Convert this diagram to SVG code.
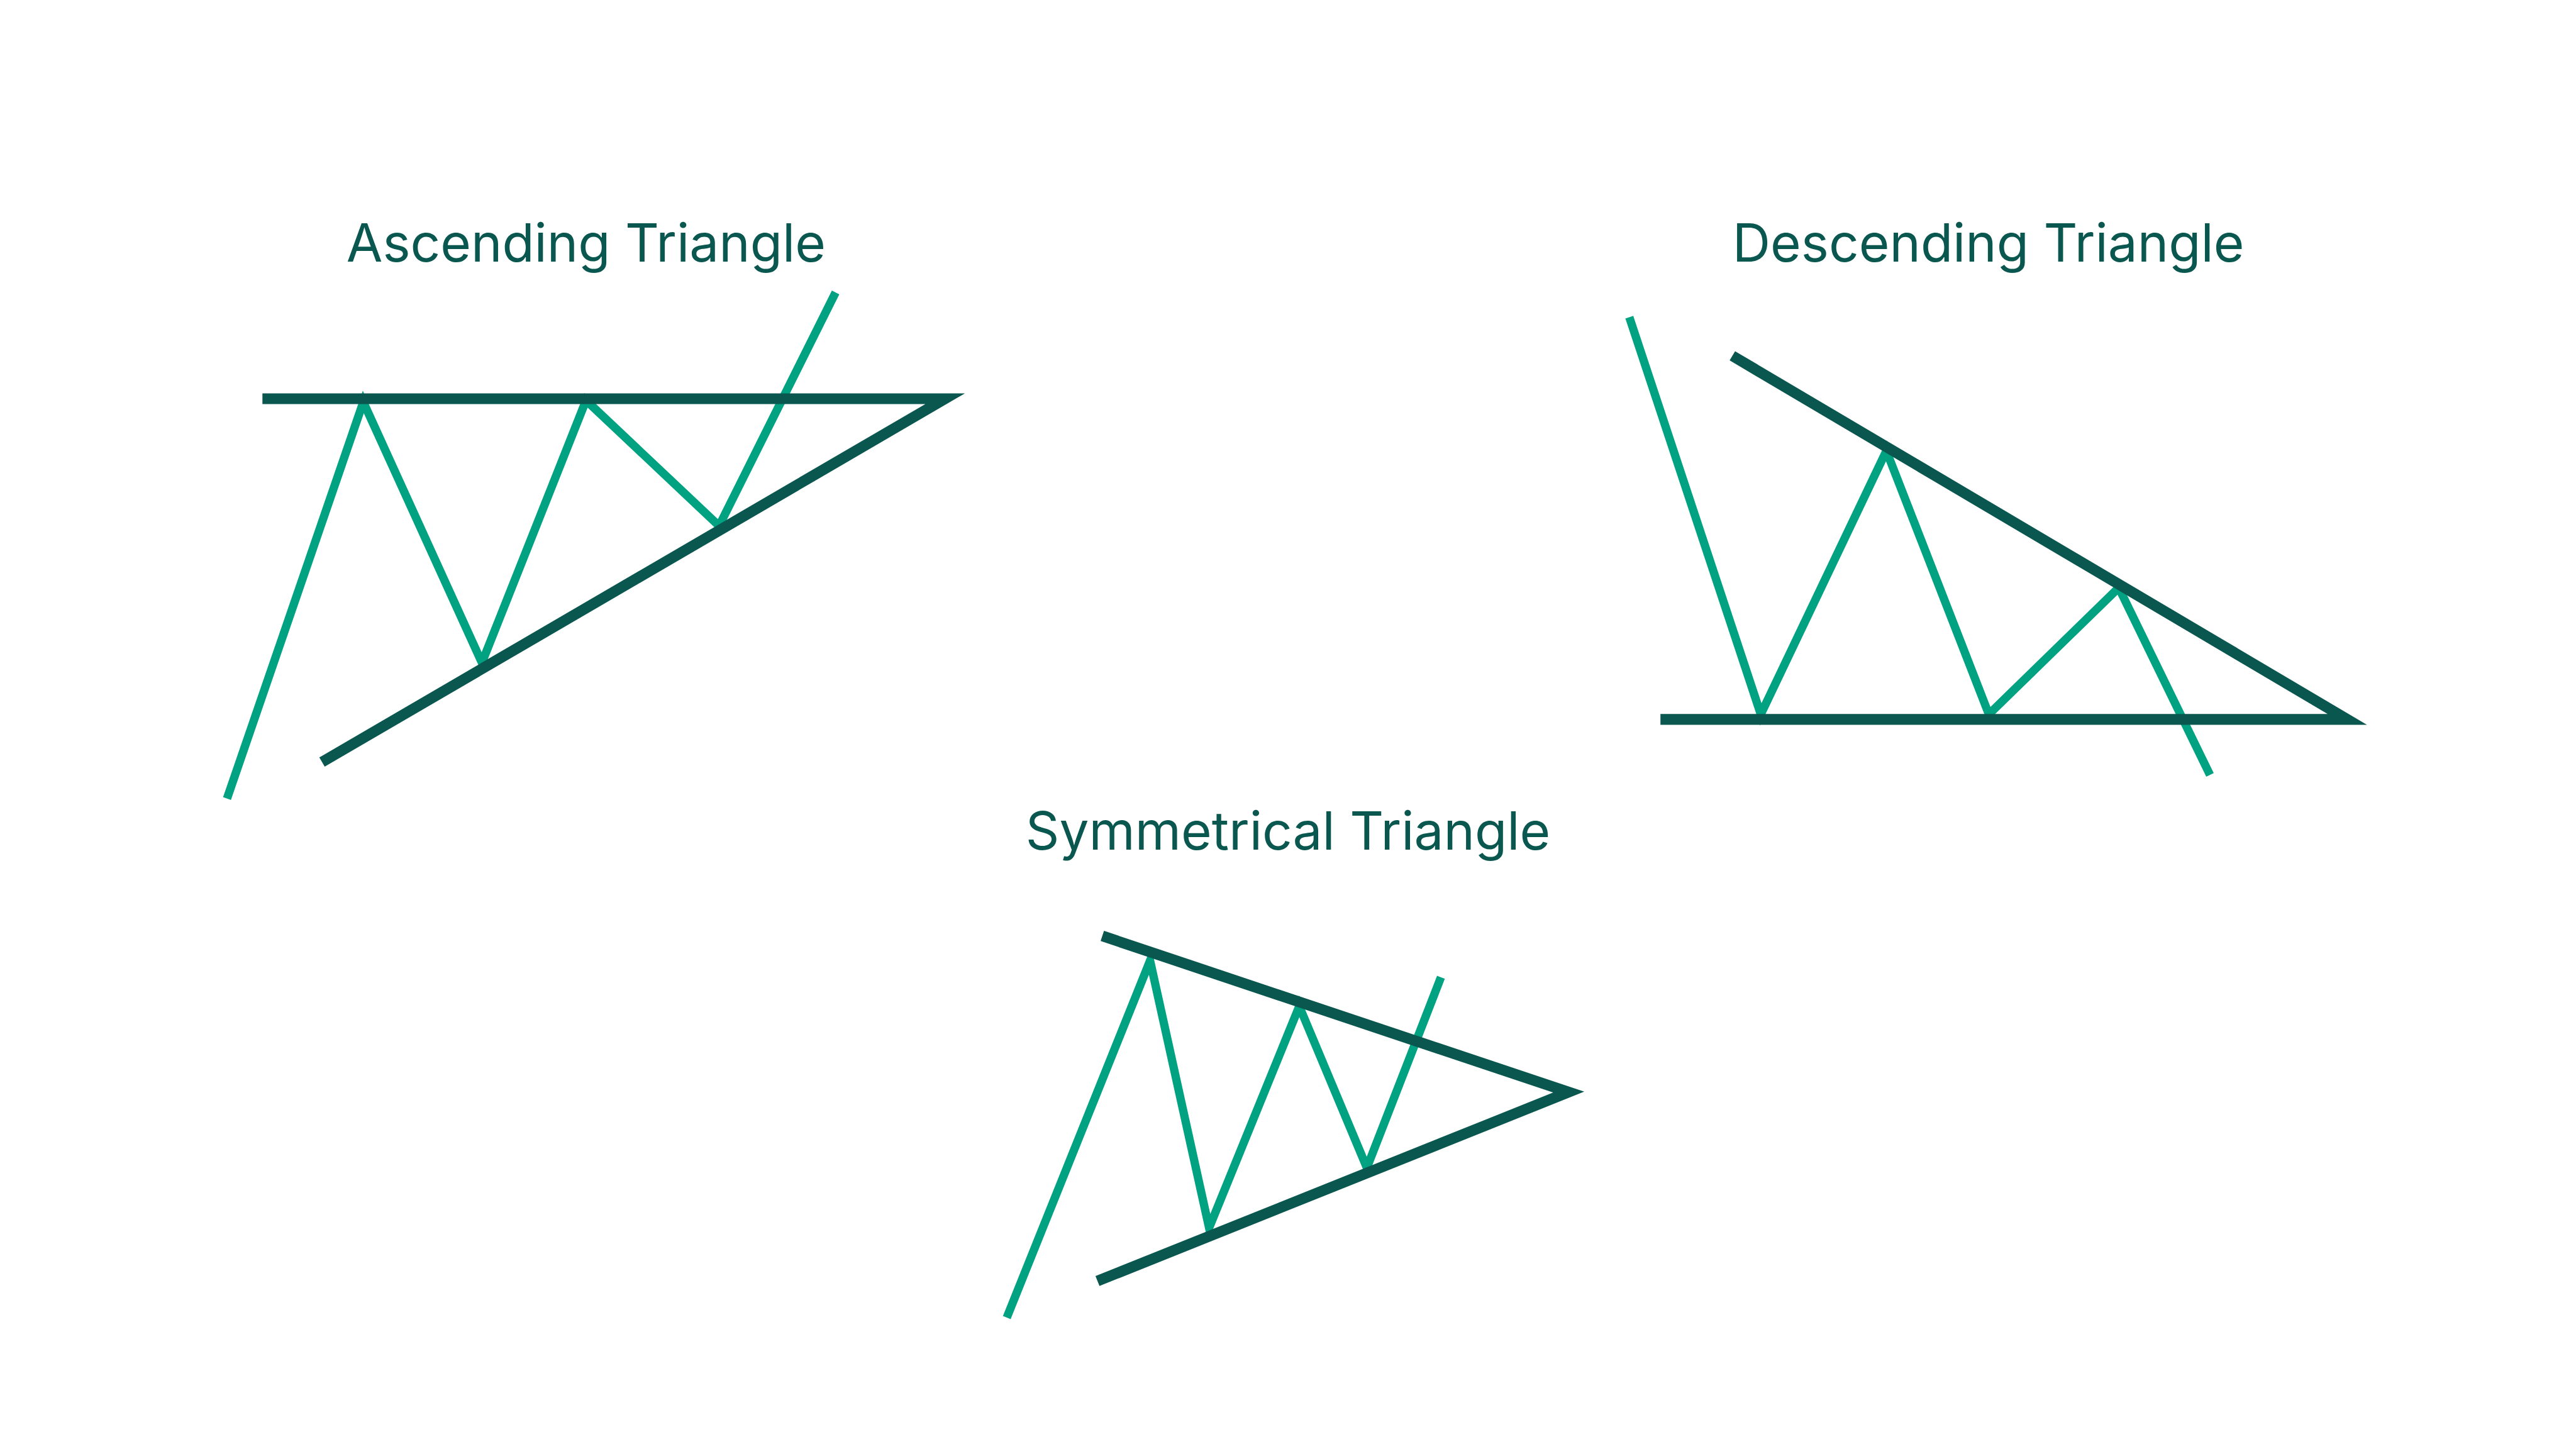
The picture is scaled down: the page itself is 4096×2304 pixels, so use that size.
<svg xmlns="http://www.w3.org/2000/svg" width="4096" height="2304" viewBox="0 0 4096 2304">
  <style>
    .title { font-family: Inter, "Noto Sans", "Liberation Sans", sans-serif; font-size: 98px; fill: #0A5750; text-anchor: middle; }
    .bound { fill: none; stroke: #0A5750; stroke-width: 20; stroke-linejoin: miter; stroke-miterlimit: 10; stroke-linecap: butt; }
    .price { fill: none; stroke: #00A282; stroke-width: 15.5; stroke-linejoin: miter; stroke-miterlimit: 10; stroke-linecap: butt; }
  </style>
  <rect width="4096" height="2304" fill="#FFFFFF"/>
  <g transform="scale(0.853333)">
    <g id="ascending-triangle">
      <text class="title" x="1092" y="487">Ascending Triangle</text>
      <polyline class="price" points="423,1488 677,749 898,1235 1092,746 1340,980 1557,545"/>
      <polyline class="bound" points="489,743 1761,743 600,1420"/>
    </g>
    <g id="descending-triangle">
      <text class="title" x="3705" y="487">Descending Triangle</text>
      <polyline class="price" points="3036,591 3281,1331 3515,840 3706,1331 3948,1095 4118,1444"/>
      <polyline class="bound" points="3094,1340.5 4374,1340.5 3228,663"/>
    </g>
    <g id="symmetrical-triangle">
      <text class="title" x="2400" y="1583">Symmetrical Triangle</text>
      <polyline class="price" points="1876,2455 2143,1790 2253,2288 2421,1875 2547,2176 2685,1821"/>
      <polyline class="bound" points="2054,1744 2923,2035 2045,2387"/>
    </g>
  </g>
</svg>
